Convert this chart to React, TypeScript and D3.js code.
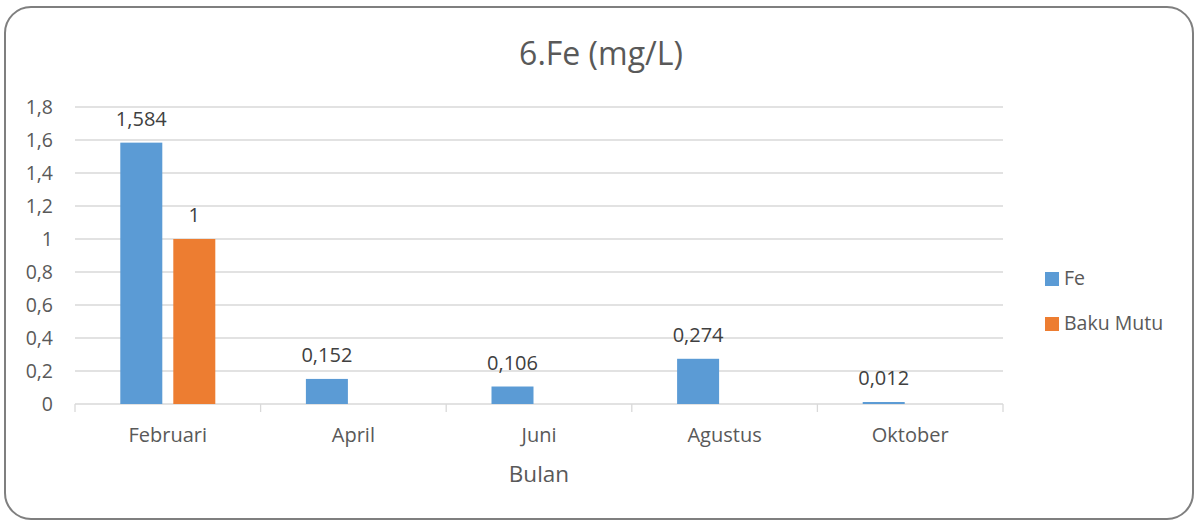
import React, { useEffect, useRef } from 'react';
import * as d3 from 'd3';

const months = ['Februari', 'April', 'Juni', 'Agustus', 'Oktober'];
const feValues = [1.584, 0.152, 0.106, 0.274, 0.012];
const bakuMutuValues: (number | null)[] = [1, null, null, null, null];
const yTicks = [0, 0.2, 0.4, 0.6, 0.8, 1, 1.2, 1.4, 1.6, 1.8];

const W = 1198;
const H = 522;
const FONT = '"Open Sans", Calibri, sans-serif';

const fmt = (v: number) => String(v).replace('.', ',');

const App = () => {
  const ref = useRef<SVGSVGElement>(null);

  useEffect(() => {
    const svg = d3.select(ref.current);
    svg.selectAll('*').remove();

    const margin = { left: 75, right: 195, top: 107, bottom: 118 };

    // frame
    svg.append('rect')
      .attr('x', 5).attr('y', 7)
      .attr('width', W - 10).attr('height', H - 10)
      .attr('rx', 26).attr('ry', 26)
      .attr('fill', '#fff')
      .attr('stroke', '#7f7f7f')
      .attr('stroke-width', 2);

    svg.append('text')
      .attr('x', 601).attr('y', 65)
      .attr('text-anchor', 'middle')
      .attr('font-family', FONT).attr('font-size', 32)
      .attr('fill', '#595959')
      .text('6.Fe (mg/L)');

    const x = d3.scaleBand().domain(months).range([margin.left, W - margin.right]);
    const y = d3.scaleLinear().domain([0, 1.8]).range([H - margin.bottom, margin.top]);

    const g = svg.append('g');

    // gridlines
    g.selectAll('.grid').data(yTicks.slice(1)).enter()
      .append('line')
        .attr('x1', margin.left).attr('x2', W - margin.right)
        .attr('y1', d => y(d)).attr('y2', d => y(d))
        .attr('stroke', '#d9d9d9').attr('stroke-width', 1.3);

    // y labels
    g.selectAll('.ylab').data(yTicks).enter()
      .append('text')
        .attr('x', 53).attr('y', d => y(d) + 7)
        .attr('text-anchor', 'end')
        .attr('font-family', FONT).attr('font-size', 19.5)
        .attr('fill', '#595959')
        .text(d => fmt(d));

    // x axis
    g.append('line')
      .attr('x1', margin.left).attr('x2', W - margin.right)
      .attr('y1', y(0)).attr('y2', y(0))
      .attr('stroke', '#d9d9d9').attr('stroke-width', 1.3);
    const bounds = months.map(m => x(m) as number).concat([W - margin.right]);
    g.selectAll('.xtick').data(bounds).enter()
      .append('line')
        .attr('x1', d => d).attr('x2', d => d)
        .attr('y1', y(0)).attr('y2', y(0) + 8)
        .attr('stroke', '#d9d9d9').attr('stroke-width', 1.3);

    g.selectAll('.xlab').data(months).enter()
      .append('text')
        .attr('x', d => (x(d) as number) + x.bandwidth() / 2)
        .attr('y', 442)
        .attr('text-anchor', 'middle')
        .attr('font-family', FONT).attr('font-size', 20)
        .attr('fill', '#595959')
        .text(d => d);

    g.append('text')
      .attr('x', 539).attr('y', 482)
      .attr('text-anchor', 'middle')
      .attr('font-family', FONT).attr('font-size', 22.5)
      .attr('fill', '#595959')
      .text('Bulan');

    // bars
    const barW = 42;
    const gap = 11;
    const series = [
      { name: 'Fe', values: feValues as (number | null)[], color: '#5b9bd5' },
      { name: 'Baku Mutu', values: bakuMutuValues, color: '#ed7d31' },
    ];
    series.forEach((s, si) => {
      const items = months.map((m, i) => ({ m, v: s.values[i] })).filter(d => d.v != null) as { m: string; v: number }[];
      const off = (x.bandwidth() - (barW * 2 + gap)) / 2 + si * (barW + gap);
      g.selectAll('.bar' + si).data(items).enter()
        .append('rect')
          .attr('x', d => (x(d.m) as number) + off)
          .attr('y', d => y(d.v))
          .attr('width', barW)
          .attr('height', d => y(0) - y(d.v))
          .attr('fill', s.color);
      g.selectAll('.lab' + si).data(items).enter()
        .append('text')
          .attr('x', d => (x(d.m) as number) + off + barW / 2)
          .attr('y', d => y(d.v) - 17)
          .attr('text-anchor', 'middle')
          .attr('font-family', FONT).attr('font-size', 20)
          .attr('fill', '#404040')
          .text(d => fmt(d.v));
    });

    // legend
    series.forEach((s, i) => {
      const ly = 285 + i * 45;
      svg.append('rect')
        .attr('x', 1045).attr('y', ly - 13)
        .attr('width', 14).attr('height', 14)
        .attr('fill', s.color);
      svg.append('text')
        .attr('x', 1064).attr('y', ly)
        .attr('font-family', FONT).attr('font-size', 19.5)
        .attr('fill', '#595959')
        .text(s.name);
    });
  }, []);

  return (
    <svg ref={ref} width={W} height={H}
      style={{ position: 'absolute', left: 0, top: 0, display: 'block' }} />
  );
};

export default App;
